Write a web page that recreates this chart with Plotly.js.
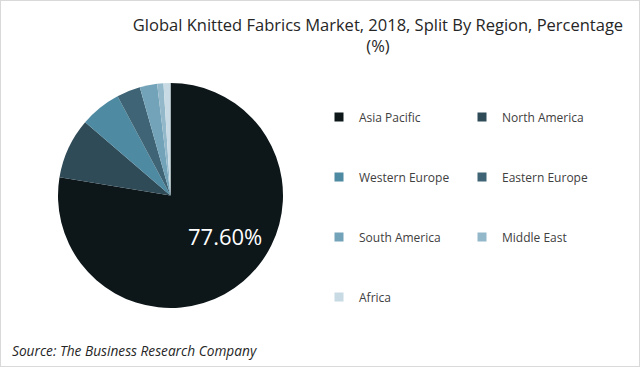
<!DOCTYPE html>
<html>
<head>
<meta charset="utf-8">
<script src="https://cdn.plot.ly/plotly-3.0.1.min.js"></script>
<style>html,body{margin:0;padding:0;background:#fff;}#chart{width:640px;height:367px;}</style>
</head>
<body>
<div id="chart"></div>
<script>
var regions = ["Asia Pacific", "North America", "Western Europe", "Eastern Europe", "South America", "Middle East", "Africa"];
var shares = [77.6, 8.7, 5.9, 3.4, 2.5, 0.9, 1.0];
var sliceColors = ["#0d1619", "#2f4b58", "#4e8aa2", "#3e6475", "#73a3b9", "#93b8c9", "#c8dbe4"];
var legendRows = ["legend", "legend", "legend2", "legend2", "legend3", "legend3", "legend4"];

var traces = [{
  type: "pie",
  labels: regions,
  values: shares,
  sort: false,
  direction: "clockwise",
  rotation: 0,
  marker: {colors: sliceColors, line: {width: 0}},
  textinfo: "none",
  hoverinfo: "label+percent",
  showlegend: false,
  domain: {x: [58/640, 283/640], y: [1 - 308/367, 1 - 83/367]}
}];

regions.forEach(function (r, i) {
  traces.push({
    type: "scatter", mode: "markers", x: [null], y: [null], name: r,
    marker: {symbol: "square", size: 9, color: sliceColors[i]},
    legend: legendRows[i], showlegend: true, hoverinfo: "skip"
  });
});

function leg(yPx) {
  return {
    orientation: "h", x: 319/640, xanchor: "left", y: 1 - yPx/367, yanchor: "middle",
    entrywidth: 98, entrywidthmode: "pixels", bgcolor: "rgba(0,0,0,0)",
    font: {family: "Open Sans", size: 12, color: "#404040"}, itemclick: false
  };
}

var layout = {
  width: 640, height: 367,
  margin: {l: 0, r: 0, t: 0, b: 0},
  paper_bgcolor: "#ffffff", plot_bgcolor: "#ffffff",
  title: {
    text: "Global Knitted Fabrics Market, 2018, Split By Region, Percentage<br>(%)",
    x: 378/640, xanchor: "center", y: 1 - 31/367, yanchor: "top",
    font: {family: "Open Sans", size: 16.5, color: "#262626"}
  },
  xaxis: {visible: false}, yaxis: {visible: false},
  legend: leg(117), legend2: leg(177), legend3: leg(237), legend4: leg(297),
  annotations: [
    {text: shares[0].toFixed(2) + "%", xref: "paper", yref: "paper", x: 225/640, y: 1 - 236/367,
     showarrow: false, font: {family: "Open Sans", size: 22, color: "#ffffff"}},
    {text: "<i>Source: The Business Research Company</i>", xref: "paper", yref: "paper",
     x: 10/640, xanchor: "left", y: 1 - 350/367, yanchor: "middle", showarrow: false,
     font: {family: "Open Sans", size: 13.7, color: "#262626"}}
  ],
  shapes: [
    {type: "rect", xref: "paper", yref: "paper", x0: 0, x1: 1, y0: 0, y1: 1,
     line: {color: "#d9d9d9", width: 2}, fillcolor: "rgba(0,0,0,0)"}
  ]
};

Plotly.newPlot("chart", traces, layout, {displayModeBar: false, staticPlot: true});
</script>
</body>
</html>
